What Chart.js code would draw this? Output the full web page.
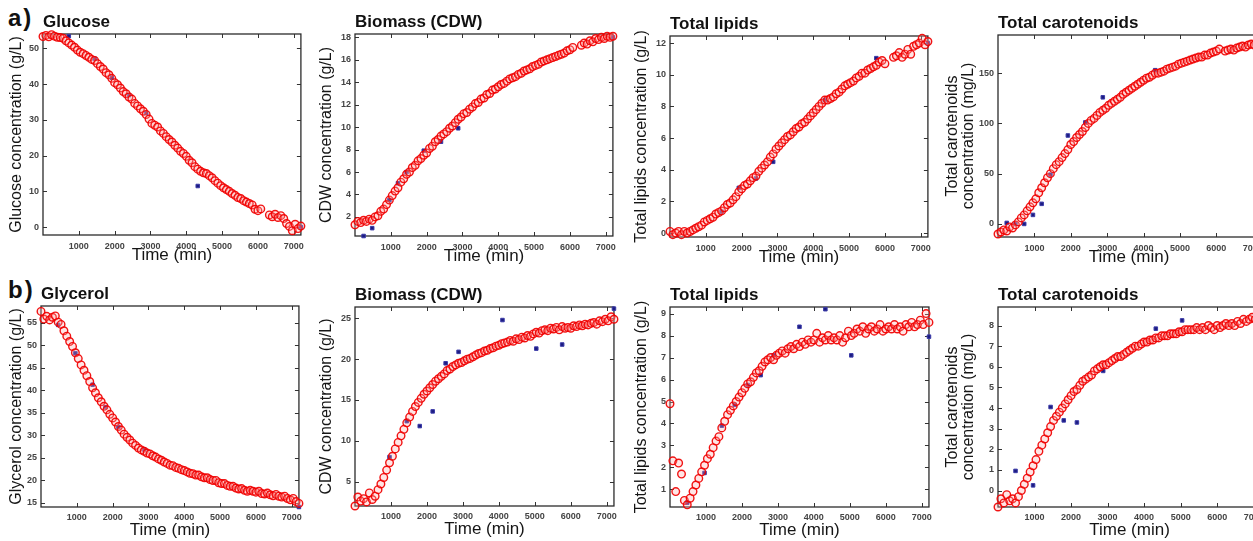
<!DOCTYPE html>
<html>
<head>
<meta charset="utf-8">
<script src="https://cdn.jsdelivr.net/npm/chart.js@4.4.1/dist/chart.umd.min.js"></script>
<style>
  html, body { margin: 0; padding: 0; background: #fff; overflow: hidden; }
  body { width: 1253px; height: 541px; position: relative; }
  .panel { position: absolute; }
  .tag { position: absolute; font: bold 24px "Liberation Sans", Arial, sans-serif; color: #111; letter-spacing: 2px; line-height: 24px; }
</style>
</head>
<body>
<div class="tag" style="left:8px;top:6px">a)</div>
<div class="tag" style="left:8px;top:278px">b)</div>
<script>
const FONT = '"Liberation Sans", Arial, Helvetica, sans-serif';

// shared sampling times of the sensor series (min)
const TIME = [0,80,160,240,320,400,480,560,640,720,
  800,880,960,1040,1120,1200,1280,1360,1440,1520,
  1600,1680,1760,1840,1920,2000,2080,2160,2240,2320,
  2400,2480,2560,2640,2720,2800,2880,2960,3040,3120,
  3200,3280,3360,3440,3520,3600,3680,3760,3840,3920,
  4000,4080,4160,4240,4320,4400,4480,4560,4640,4720,
  4800,4880,4960,5040,5120,5200,5280,5360,5440,5520,
  5600,5680,5760,5840,5920,6000,6080,6160,6240,6320,
  6400,6480,6560,6640,6720,6800,6880,6960,7040,7120,
  7200];

// a) glucose run - estimated (red circles)
const GLUCOSE = [53.3,53.6,53.2,53.8,53.4,53.1,53.0,52.8,52.1,51.5,
  50.9,50.3,49.5,48.9,48.5,48.0,47.5,46.9,46.6,45.7,
  44.9,44.2,43.2,42.6,41.6,40.4,39.8,38.9,37.9,37.3,
  36.4,35.8,34.6,33.9,33.1,32.4,31.5,30.2,29.0,28.5,
  28.0,26.9,26.2,25.3,24.5,23.8,22.9,22.1,21.2,20.6,
  19.8,18.7,18.0,16.9,16.2,15.6,15.2,15.0,14.4,13.8,
  13.0,12.3,11.6,11.0,10.5,10.0,9.4,8.9,8.3,8.0,
  7.4,7.0,6.6,6.2,5.0,4.6,5.1,null,null,3.4,
  2.9,3.6,2.7,3.2,2.4,1.0,0.2,-1.0,0.8,-0.4,
  0.3];
const CDW_A = [1.3,1.6,1.5,1.7,1.6,1.8,1.7,2.0,2.1,2.5,
  2.7,3.1,3.5,3.9,4.3,4.6,5.1,5.4,5.8,6.0,
  6.4,6.6,7.0,7.2,7.5,7.7,8.1,8.3,8.7,8.9,
  9.2,9.4,9.6,9.9,10.1,10.4,10.7,10.9,11.2,11.3,
  11.6,11.8,12.1,12.2,12.5,12.6,12.9,13.0,13.3,13.4,
  13.6,13.8,13.9,14.1,14.3,14.4,14.5,14.7,14.8,15.0,
  15.1,15.2,15.4,15.5,15.6,15.8,15.9,16.0,16.1,16.2,
  16.3,16.4,16.5,16.6,16.8,16.9,17.1,null,null,17.3,
  17.5,17.4,17.7,17.6,17.9,17.8,18.0,17.9,18.1,18.0,
  18.1];
const LIPIDS_A = [0.1,-0.1,0.0,0.1,-0.1,0.1,0.0,0.1,0.2,0.3,
  0.4,0.5,0.7,0.8,0.9,1.0,1.2,1.3,1.4,1.6,
  1.8,1.9,2.1,2.3,2.6,2.8,3.0,3.1,3.3,3.5,
  3.6,3.9,4.1,4.3,4.5,4.8,5.0,5.3,5.5,5.7,
  5.9,6.1,6.2,6.4,6.6,6.7,6.9,7.0,7.2,7.4,
  7.6,7.8,8.0,8.2,8.4,8.4,8.5,8.6,8.8,8.9,
  9.1,9.3,9.4,9.5,9.6,9.8,9.9,10.1,10.1,10.3,
  10.4,10.5,10.6,10.8,10.9,10.7,null,null,11.1,11.2,
  11.4,11.1,11.3,11.6,11.3,11.8,11.9,12.0,12.3,11.9,
  12.1];
const CAROT_A = [-10,-8,-6,-7,-3,-4,-1,2,6,9,
  13,17,21,25,31,36,41,46,50,55,
  59,62,66,70,74,79,82,86,89,92,
  96,100,103,105,108,111,113,115,118,120,
  122,124,126,129,131,133,135,137,139,141,
  143,145,146,148,150,150,151,152,154,155,
  156,157,159,160,161,162,163,164,165,166,
  166,168,168,170,171,172,174,null,172,173,
  174,173,175,176,177,176,178,179,178,180,
  181];

// b) glycerol run - estimated (red circles)
const GLYCEROL = [57.5,55.8,56.4,55.6,56.2,56.5,55.1,54.6,53.2,52.0,
  50.8,49.7,48.3,47.0,45.6,44.4,43.2,41.9,40.5,39.4,
  38.3,37.4,36.4,35.6,34.6,33.8,32.9,31.9,31.1,30.2,
  29.5,28.9,28.2,27.7,27.1,26.7,26.4,26.0,25.8,25.4,
  25.1,24.7,24.4,24.0,23.7,23.3,23.2,22.8,22.6,22.3,
  22.1,21.8,21.5,21.4,21.1,21.1,20.7,20.5,20.5,20.1,
  19.9,19.9,19.4,19.2,19.2,18.8,18.6,18.6,18.2,18.0,
  18.1,17.7,17.5,17.7,17.5,17.3,17.5,17.0,16.9,17.1,
  16.7,16.5,16.8,16.4,16.2,16.4,15.9,15.6,15.9,15.2,
  14.8];
const CDW_B = [2.0,3.1,2.6,2.9,2.5,3.6,2.8,3.2,4.0,4.7,
  5.5,6.4,7.3,8.1,9.0,9.8,10.6,11.4,12.2,12.9,
  13.6,14.2,14.7,15.2,15.7,16.1,16.5,16.9,17.3,17.6,
  17.9,18.2,18.6,18.8,19.1,19.3,19.5,19.6,19.8,20.0,
  20.1,20.3,20.5,20.7,20.8,21.0,21.1,21.3,21.4,21.6,
  21.7,21.9,22.0,22.1,22.3,22.2,22.5,22.4,22.7,22.6,
  22.9,22.8,23.1,23.3,23.2,23.5,23.6,23.5,23.8,23.7,
  23.9,23.6,24.0,23.8,23.9,23.8,24.1,24.0,24.2,24.1,
  24.3,24.2,24.4,24.5,24.3,24.7,24.6,24.9,24.7,25.2,
  24.9];
const LIPIDS_B = [4.9,2.3,0.9,2.2,1.7,0.5,0.3,0.6,0.9,1.2,
  1.5,1.8,2.1,2.4,2.6,2.9,3.2,3.4,3.8,4.1,
  4.4,4.6,4.8,5.0,5.2,5.4,5.6,5.8,5.9,6.1,
  6.3,6.4,6.6,6.8,6.9,7.0,6.9,7.1,7.2,7.3,
  7.2,7.4,7.5,7.4,7.6,7.5,7.7,7.6,7.8,7.7,
  7.8,8.1,7.7,7.9,7.8,8.0,7.8,7.9,7.8,8.0,
  7.7,7.9,8.2,8.0,8.1,8.3,8.2,8.4,8.1,8.3,
  8.4,8.2,8.3,8.5,8.2,8.3,8.4,8.3,8.5,8.3,
  8.4,8.2,8.5,8.4,8.6,8.4,8.5,8.7,8.5,9.0,
  8.6];
const CAROT_B = [-0.8,-0.4,-0.6,-0.2,-0.5,-0.4,-0.6,-0.3,0.0,0.3,
  0.6,0.9,1.2,1.5,1.9,2.2,2.5,2.8,3.1,3.4,
  3.6,3.8,4.0,4.2,4.4,4.6,4.8,4.9,5.1,5.3,
  5.4,5.5,5.6,5.8,5.9,6.0,6.1,6.1,6.2,6.3,
  6.4,6.5,6.5,6.6,6.7,6.8,6.9,7.0,7.0,7.1,
  7.2,7.2,7.3,7.3,7.4,7.4,7.5,7.5,7.5,7.6,
  7.6,7.6,7.7,7.7,7.8,7.8,7.8,7.8,7.9,7.8,
  7.9,7.8,8.0,7.9,7.8,8.0,7.9,8.0,8.1,8.0,
  8.1,8.0,8.2,8.1,8.3,8.2,8.3,8.4,8.3,8.5,
  8.4];

// offline samples (blue marks): times and values
const GLUCOSE_ST = [720,1440,1920,2400,2880,4320,7200];
const GLUCOSE_SV = [53.4,47.1,41.8,36.9,31.9,11.5,0.0];
const CDW_A_ST = [240,480,960,1200,1440,1920,2400,2880,7200];
const CDW_A_SV = [0.3,1.0,3.5,5.0,6.0,7.9,8.7,9.9,18.0];
const LIPIDS_A_ST = [1440,1920,2400,2880,4320,5760,7200];
const LIPIDS_A_SV = [1.35,2.85,3.45,4.5,8.4,11.05,12.0];
const CAROT_A_ST = [240,480,720,960,1200,1440,1920,2400,2880,4320];
const CAROT_A_SV = [1,0,0,9,20,49,88,101,126,153];
const GLYCEROL_ST = [480,960,1440,1800,2160,2880,7200];
const GLYCEROL_SV = [54.5,48.2,41.2,36.2,31.8,26.8,14.0];
const CDW_B_ST = [960,1440,1800,2160,2520,2880,4100,5040,5760,7200];
const CDW_B_SV = [8.0,12.4,11.8,13.6,19.5,20.9,24.8,21.3,21.8,26.2];
const LIPIDS_B_ST = [480,960,1440,1800,2160,2520,2880,3600,4320,5040,7200];
const LIPIDS_B_SV = [0.4,1.75,3.9,4.85,5.75,6.2,7.1,8.4,9.2,7.1,7.95];
const CAROT_B_ST = [480,960,1440,1800,2160,2880,4320,5040,7200];
const CAROT_B_SV = [0.95,0.25,4.05,3.4,3.3,5.8,7.85,8.25,8.9];

// tick labels
const X_TICKS = [1000,2000,3000,4000,5000,6000,7000];
const GLUCOSE_TICKS = [0,10,20,30,40,50];
const CDW_A_TICKS = [2,4,6,8,10,12,14,16,18];
const LIPIDS_A_TICKS = [0,2,4,6,8,10,12];
const CAROT_A_TICKS = [0,50,100,150];
const GLYCEROL_TICKS = [15,20,25,30,35,40,45,50,55];
const CDW_B_TICKS = [5,10,15,20,25];
const LIPIDS_B_TICKS = [1,2,3,4,5,6,7,8,9];
const CAROT_B_TICKS = [0,1,2,3,4,5,6,7,8];

const TITLE_H = 22;

// plot box on the page (L,T,R,B), y axis width, x axis height
const PANELS = [
  { title: 'Glucose', ylabel: 'Glucose concentration (g/L)', vals: GLUCOSE, st: GLUCOSE_ST, sv: GLUCOSE_SV,
    ticks: GLUCOSE_TICKS, ymin: -2.2, ymax: 54, L: 43, T: 34, R: 302, B: 235, yw: 43, xh: 31, xpad: 6 },
  { title: 'Biomass (CDW)', ylabel: 'CDW concentration (g/L)', vals: CDW_A, st: CDW_A_ST, sv: CDW_A_SV,
    ticks: CDW_A_TICKS, ymin: 0.3, ymax: 18.3, L: 355, T: 34, R: 614, B: 236, yw: 45, xh: 31, xpad: 6 },
  { title: 'Total lipids', ylabel: 'Total lipids concentration (g/L)', vals: LIPIDS_A, st: LIPIDS_A_ST, sv: LIPIDS_A_SV,
    ticks: LIPIDS_A_TICKS, ymin: -0.25, ymax: 12.45, L: 670, T: 36, R: 929, B: 237, yw: 45, xh: 31, xpad: 6 },
  { title: 'Total carotenoids', ylabel: ['Total carotenoids', 'concentration (mg/L)'], vals: CAROT_A, st: CAROT_A_ST, sv: CAROT_A_SV,
    ticks: CAROT_A_TICKS, ymin: -13, ymax: 188, L: 998, T: 35, R: 1261, B: 237, yw: 60, xh: 31, xpad: 6 },
  { title: 'Glycerol', ylabel: 'Glycerol concentration (g/L)', vals: GLYCEROL, st: GLYCEROL_ST, sv: GLYCEROL_SV,
    ticks: GLYCEROL_TICKS, ymin: 14, ymax: 58.7, L: 41, T: 306, R: 299, B: 507, yw: 41, xh: 34, xpad: 5 },
  { title: 'Biomass (CDW)', ylabel: 'CDW concentration (g/L)', vals: CDW_B, st: CDW_B_ST, sv: CDW_B_SV,
    ticks: CDW_B_TICKS, ymin: 2, ymax: 26.4, L: 355, T: 307, R: 614, B: 506, yw: 45, xh: 34, xpad: 5 },
  { title: 'Total lipids', ylabel: 'Total lipids concentration (g/L)', vals: LIPIDS_B, st: LIPIDS_B_ST, sv: LIPIDS_B_SV,
    ticks: LIPIDS_B_TICKS, ymin: 0.2, ymax: 9.3, L: 670, T: 307, R: 929, B: 507, yw: 45, xh: 34, xpad: 5 },
  { title: 'Total carotenoids', ylabel: ['Total carotenoids', 'concentration (mg/L)'], vals: CAROT_B, st: CAROT_B_ST, sv: CAROT_B_SV,
    ticks: CAROT_B_TICKS, ymin: -0.8, ymax: 8.9, L: 998, T: 307, R: 1261, B: 507, yw: 60, xh: 34, xpad: 5 },
];

// MATLAB-like box with inward ticks on all four sides
const boxTicks = {
  id: 'boxTicks',
  beforeDatasetsDraw(chart) {
    const { ctx, chartArea: a, scales: { x, y } } = chart;
    ctx.save();
    ctx.strokeStyle = '#333';
    ctx.lineWidth = 1;
    ctx.beginPath();
    x.ticks.forEach(t => {
      const px = Math.round(x.getPixelForValue(t.value)) + 0.5;
      ctx.moveTo(px, a.bottom); ctx.lineTo(px, a.bottom - 4);
      ctx.moveTo(px, a.top); ctx.lineTo(px, a.top + 4);
    });
    y.ticks.forEach(t => {
      const py = Math.round(y.getPixelForValue(t.value)) + 0.5;
      ctx.moveTo(a.left, py); ctx.lineTo(a.left + 4, py);
      ctx.moveTo(a.right, py); ctx.lineTo(a.right - 4, py);
    });
    ctx.stroke();
    ctx.lineWidth = 1.3;
    ctx.strokeStyle = '#2b2b2b';
    ctx.strokeRect(a.left, a.top, a.right - a.left, a.bottom - a.top);
    ctx.restore();
  }
};

function makePanel(p) {
  const plotW = p.R - p.L, plotH = p.B - p.T;
  const wrap = document.createElement('div');
  wrap.className = 'panel';
  wrap.style.left = (p.L - p.yw) + 'px';
  wrap.style.top = (p.T - TITLE_H) + 'px';
  const canvas = document.createElement('canvas');
  canvas.width = p.yw + plotW + 8;
  canvas.height = TITLE_H + plotH + p.xh;
  wrap.appendChild(canvas);
  document.body.appendChild(wrap);

  const measured = TIME.map((t, i) => ({ x: t, y: p.vals[i] })).filter(d => d.y !== null);
  const samples = p.st.map((t, i) => ({ x: t, y: p.sv[i] }));
  const twoLine = Array.isArray(p.ylabel);

  new Chart(canvas, {
    type: 'scatter',
    data: {
      datasets: [
        {
          data: measured,
          pointStyle: 'circle',
          pointRadius: 3.8,
          borderWidth: 1.4,
          borderColor: 'rgba(240, 0, 0, 0.92)',
          backgroundColor: 'rgba(255, 170, 170, 0.3)',
          clip: false,
        },
        {
          data: samples,
          pointStyle: 'rect',
          pointRadius: 2.5,
          borderWidth: 1,
          borderColor: '#3a3aa8',
          backgroundColor: '#1c1c80',
          clip: false,
        },
      ],
    },
    options: {
      responsive: false,
      animation: false,
      events: [],
      layout: { padding: { left: 0, right: 8, top: 0, bottom: 0 } },
      plugins: {
        legend: { display: false },
        tooltip: { enabled: false },
        title: {
          display: true, text: p.title, align: 'start', fullSize: false, color: '#111',
          font: { family: FONT, size: 17, weight: 'bold', lineHeight: '20px' },
          padding: { top: 0, bottom: 2 },
        },
      },
      scales: {
        x: {
          type: 'linear', min: 0, max: 7200,
          afterBuildTicks: s => { s.ticks = X_TICKS.map(v => ({ value: v })); },
          afterFit: s => { s.height = p.xh; },
          grid: { display: false, drawTicks: false },
          border: { display: false },
          ticks: { padding: p.xpad, autoSkip: false, maxRotation: 0, color: '#444',
                   callback: v => String(v),
                   font: { family: FONT, size: 9, weight: 'bold' } },
          title: { display: true, text: 'Time (min)', color: '#151515',
                   font: { family: FONT, size: 17 }, padding: { top: 0, bottom: 0 } },
        },
        y: {
          type: 'linear', min: p.ymin, max: p.ymax,
          afterBuildTicks: s => { s.ticks = p.ticks.map(v => ({ value: v })); },
          afterFit: s => { s.width = p.yw; },
          grid: { display: false, drawTicks: false },
          border: { display: false },
          ticks: { padding: 4, color: '#444', callback: v => String(v),
                   font: { family: FONT, size: 9, weight: 'bold' } },
          title: { display: true, text: p.ylabel, color: '#151515',
                   font: { family: FONT, size: 16, lineHeight: twoLine ? '16px' : 1.2 },
                   padding: { top: 7, bottom: 0 } },
        },
      },
    },
    plugins: [boxTicks],
  });
}

PANELS.forEach(makePanel);
</script>
</body>
</html>
